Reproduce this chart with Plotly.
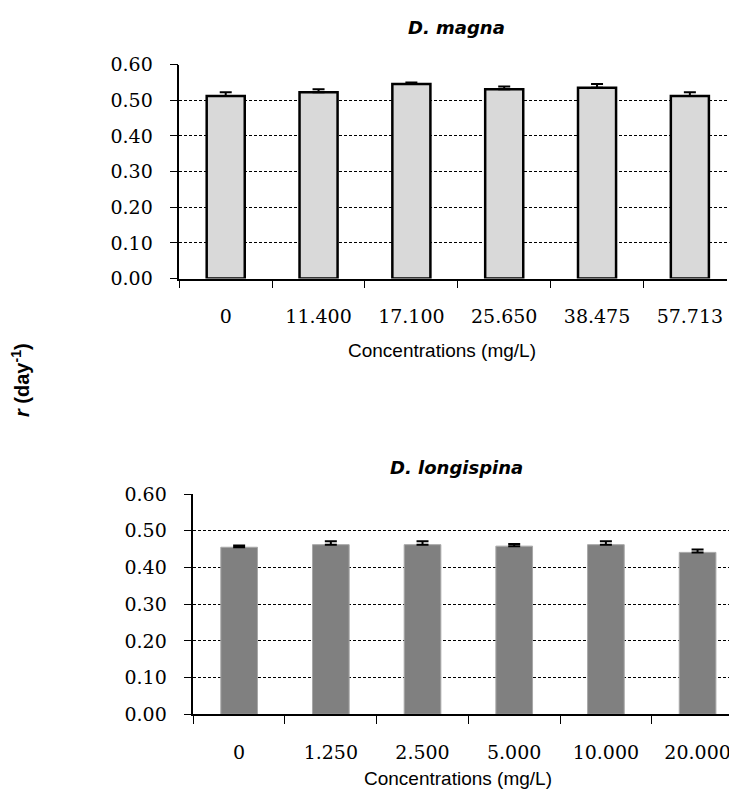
import plotly.graph_objects as go

magna_conc = ["0", "11.400", "17.100", "25.650", "38.475", "57.713"]
magna_r = [0.512, 0.523, 0.546, 0.531, 0.535, 0.512]
magna_err = [0.011, 0.008, 0.004, 0.008, 0.011, 0.011]

longi_conc = ["0", "1.250", "2.500", "5.000", "10.000", "20.000"]
longi_r = [0.455, 0.462, 0.462, 0.458, 0.462, 0.441]
longi_err = [0.005, 0.009, 0.009, 0.006, 0.009, 0.008]

y_ticks = [0.0, 0.1, 0.2, 0.3, 0.4, 0.5, 0.6]
y_ticktext = [f"{v:.2f}" for v in y_ticks]

# page body has an 8px margin: figure drawn in the remaining area
OFF = 8
W, H = 737 - OFF, 795 - OFF

def px(x):
    return (x - OFF) / W

def py(y):
    return 1 - (y - OFF) / H

fig = go.Figure()

fig.add_trace(go.Bar(
    x=magna_conc, y=magna_r, width=0.41,
    marker=dict(color="#d9d9d9", line=dict(color="black", width=2.5)),
    error_y=dict(type="data", array=magna_err, arrayminus=[0]*6, symmetric=False,
                 color="black", thickness=2, width=6),
    xaxis="x", yaxis="y", showlegend=False))

fig.add_trace(go.Bar(
    x=longi_conc, y=longi_r, width=0.40,
    marker=dict(color="#808080", line=dict(color="#a8a8a8", width=1)),
    error_y=dict(type="data", array=longi_err, arrayminus=[0]*6, symmetric=False,
                 color="black", thickness=2, width=6),
    xaxis="x2", yaxis="y2", showlegend=False))

tickfont = dict(family="DejaVu Serif", size=19, color="black")

def xax(domain, rng, anchor):
    return dict(domain=domain, type="category", range=rng, anchor=anchor,
                showline=True, linecolor="black", linewidth=1.5,
                ticks="outside", ticklen=8, tickcolor="black", tickwidth=1.2,
                tickson="boundaries", showgrid=False, tickfont=tickfont,
                ticklabelstandoff=20, automargin=False, fixedrange=True)

def yax(domain, anchor):
    return dict(domain=domain, range=[0, 0.6], anchor=anchor,
                tickvals=y_ticks, ticktext=y_ticktext,
                showline=True, linecolor="black", linewidth=1.5,
                ticks="outside", ticklen=8, tickcolor="black", tickwidth=1.2,
                showgrid=True, gridcolor="black", gridwidth=1, griddash="3px,2px",
                zeroline=False, tickfont=tickfont, ticklabelstandoff=13,
                automargin=False, fixedrange=True)

fig.update_layout(
    width=W, height=H,
    margin=dict(l=0, r=0, t=0, b=0, autoexpand=False),
    plot_bgcolor="white", paper_bgcolor="white",
    xaxis=xax([px(179.3), px(727)], [-0.5, 5.40], "y"),
    yaxis=yax([py(278.5), py(64.7)], "x"),
    xaxis2=xax([px(193.3), 1.0], [-0.5, 5.43], "y2"),
    yaxis2=yax([py(714.3), py(494)], "x2"),
)

def ann(text, x, y, size, family, angle=0):
    fig.add_annotation(text=text, x=px(x), y=py(y), xref="paper", yref="paper",
                       showarrow=False, font=dict(family=family, size=size, color="black"),
                       textangle=angle, xanchor="center", yanchor="middle")

ann("<b><i>D. magna</i></b>", 456, 28, 18, "DejaVu Sans")
ann("<b><i>D. longispina</i></b>", 456, 467, 18, "DejaVu Sans")
ann("Concentrations (mg/L)", 442, 351, 19, "Liberation Sans")
ann("Concentrations (mg/L)", 458, 778, 19, "Liberation Sans")
ann("<b><i>r</i> (day<sup>-1</sup>)</b>", 21, 380, 20, "Liberation Sans", angle=-90)

fig.write_html("out.html")
